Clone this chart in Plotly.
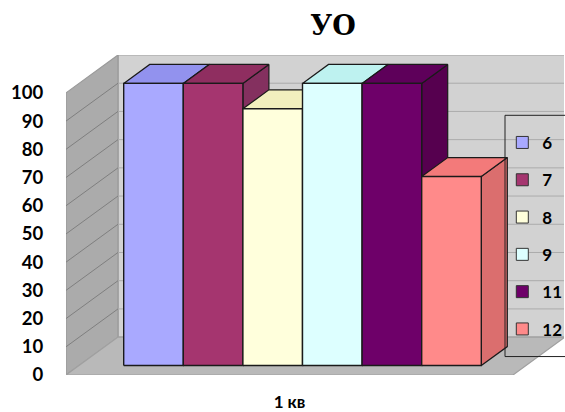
import plotly.graph_objects as go

title_text = "УО"
category = "1 кв"
series_names = ["6", "7", "8", "9", "11", "12"]
series_values = [100, 100, 91, 100, 100, 67]
y_ticks = [0, 10, 20, 30, 40, 50, 60, 70, 80, 90, 100]

front_colors = ["#A9A9FF", "#A5356F", "#FFFFDC", "#DDFFFF", "#6E0069", "#FF8A8A"]
top_colors = ["#9292EE", "#8F2E60", "#F2F0BE", "#BEF2F0", "#5E005A", "#F37A7A"]
side_colors = ["#8888DD", "#84305F", "#E0E0B0", "#B0E0E0", "#56004F", "#DB6E6E"]

W, H = 565, 412
L, R, T, B = 66, 564, 54.5, 375.5
PX_Y = 2.83
PX_X = 447.0
DX = 52 / PX_X
DY = 38 / PX_Y
GAP = 1.5
D0, D1 = 0.25, 0.75


def proj(x, v, d):
    return x + DX * d, v + DY * d


def poly(points, fill, line, width=1):
    xs, ys = zip(*points)
    return go.Scatter(
        x=list(xs) + [xs[0]], y=list(ys) + [ys[0]], mode="lines", fill="toself",
        fillcolor=fill, line=dict(color=line, width=width), hoverinfo="skip",
        showlegend=False, cliponaxis=False,
    )


def seg(p, q, color, width=1):
    return go.Scatter(
        x=[p[0], q[0]], y=[p[1], q[1]], mode="lines", line=dict(color=color, width=width),
        hoverinfo="skip", showlegend=False, cliponaxis=False,
    )


fig = go.Figure()
top = max(y_ticks)
# walls and floor
fig.add_trace(poly([proj(0, 0, 1), proj(1, 0, 1), proj(1, top, 1), proj(0, top, 1)], "#D2D2D2", "#A0A0A0", 1.2))
fig.add_trace(poly([proj(0, 0, 0), proj(0, 0, 1), proj(0, top, 1), proj(0, top, 0)], "#ABABAB", "#999999", 1.2))
fig.add_trace(poly([proj(0, 0, 0), proj(1, 0, 0), proj(1, 0, 1), proj(0, 0, 1)], "#B9B9B9", "#A0A0A0", 1.2))
for t in y_ticks[1:-1]:
    fig.add_trace(seg(proj(0, t, 0), proj(0, t, 1), "#7F7F7F"))
    fig.add_trace(seg(proj(0, t, 1), proj(1, t, 1), "#ABABAB"))

n = len(series_values)
bw = 1 / (n + GAP)
for i, v in enumerate(series_values):
    x0 = bw * GAP / 2 + i * bw
    x1 = x0 + bw
    edge = "#1A1A1A"
    fig.add_trace(poly([proj(x1, 0, D0), proj(x1, 0, D1), proj(x1, v, D1), proj(x1, v, D0)], side_colors[i], edge, 1.2))
    fig.add_trace(poly([proj(x0, v, D0), proj(x1, v, D0), proj(x1, v, D1), proj(x0, v, D1)], top_colors[i], edge, 1.2))
    fig.add_trace(poly([proj(x0, 0, D0), proj(x1, 0, D0), proj(x1, v, D0), proj(x0, v, D0)], front_colors[i], edge, 1.4))

for i, name in enumerate(series_names):
    fig.add_trace(go.Scatter(
        x=[None], y=[None], mode="markers", name=name, legendgroup=name,
        marker=dict(symbol="square", size=12, color=front_colors[i], line=dict(color="#333333", width=1)),
    ))

fig.update_layout(
    width=W, height=H,
    margin=dict(l=L, r=W - R, t=T, b=H - B, autoexpand=False),
    paper_bgcolor="white", plot_bgcolor="rgba(0,0,0,0)",
    title=dict(text=title_text, x=333 / W, xanchor="center", y=1 - 26 / H, yanchor="middle",
               font=dict(family="DejaVu Serif", size=27, weight="bold", color="black")),
    font=dict(family="Lato", color="black"),
    xaxis=dict(range=[0, (R - L) / PX_X], showgrid=False, zeroline=False, showline=False,
               tickmode="array", tickvals=[0.5], ticktext=[category],
               ticks="outside", ticklen=12, tickcolor="rgba(0,0,0,0)",
               tickfont=dict(family="Lato", size=17, weight="bold", color="black")),
    yaxis=dict(range=[0, (B - T) / PX_Y], showgrid=False, zeroline=False, showline=False,
               tickmode="array", tickvals=y_ticks, ticktext=[str(t) for t in y_ticks],
               ticks="outside", ticklen=18, tickcolor="rgba(0,0,0,0)",
               tickfont=dict(family="Lato", size=18.5, weight="bold", color="black")),
    legend=dict(x=495 / W, xanchor="left", y=1 - 90 / H, yanchor="top", bgcolor="rgba(0,0,0,0)",
                borderwidth=0, tracegroupgap=12.2, font=dict(family="Lato", size=17, weight="bold", color="black"),
                traceorder="grouped"),
    shapes=[dict(type="path", xref="paper", yref="paper", layer="above",
                 path=f"M 1.2 {1 - (115 - T) / (B - T)} L {(505 - L) / (R - L)} {1 - (115 - T) / (B - T)} "
                      f"L {(505 - L) / (R - L)} {1 - (357 - T) / (B - T)} L 1.2 {1 - (357 - T) / (B - T)}",
                 line=dict(color="#222222", width=1))],
    showlegend=True,
)
fig.write_html("out.html", post_script="document.body.style.margin='0';",
               config=dict(displayModeBar=False))
